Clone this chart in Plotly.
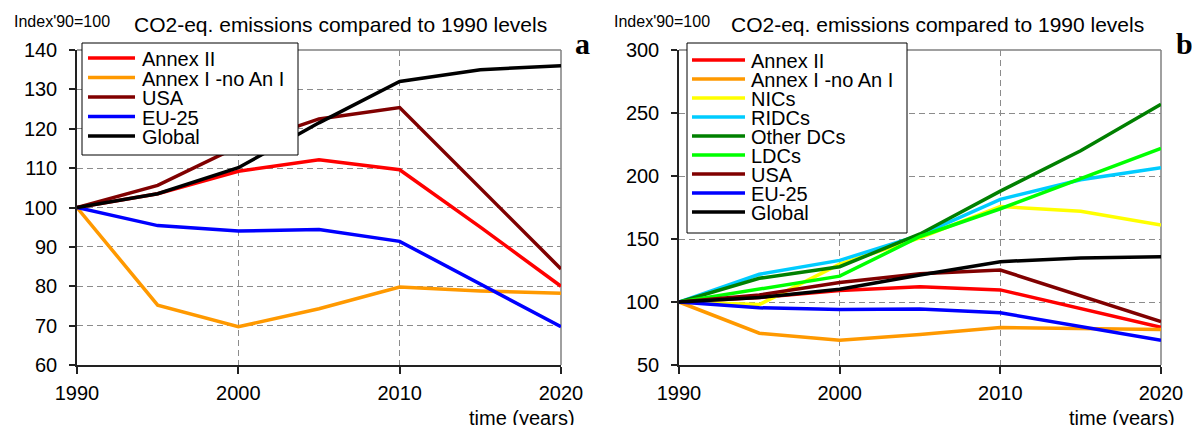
import plotly.graph_objects as go

# ---- data: emissions index (1990 = 100) ----
years = [1990, 1995, 2000, 2005, 2010, 2015, 2020]

annex_ii = [100, 103.5, 109.2, 112.1, 109.6, 95.0, 80.0]
annex_i_no_an_i = [100, 75.2, 69.7, 74.3, 79.8, 78.8, 78.2]
usa = [100, 105.6, 115.5, 122.5, 125.4, 105.0, 84.4]
eu25 = [100, 95.4, 94.0, 94.4, 91.4, 80.5, 69.7]
global_ = [100, 103.5, 110.1, 121.5, 132.0, 135.0, 136.0]
nics = [100, 98.0, 130.0, 151.0, 175.8, 172.0, 161.0]
ridcs = [100, 122.0, 133.0, 153.0, 181.5, 197.0, 206.5]
other_dcs = [100, 118.8, 128.0, 154.0, 188.0, 220.0, 257.0]
ldcs = [100, 110.5, 120.5, 152.0, 174.0, 198.0, 222.0]

panel_a_series = [
    ("Annex II", annex_ii, "#FF0000"),
    ("Annex I -no An I", annex_i_no_an_i, "#FF9900"),
    ("USA", usa, "#800000"),
    ("EU-25", eu25, "#0000FF"),
    ("Global", global_, "#000000"),
]
panel_b_series = [
    ("Annex II", annex_ii, "#FF0000"),
    ("Annex I -no An I", annex_i_no_an_i, "#FF9900"),
    ("NICs", nics, "#FFFF00"),
    ("RIDCs", ridcs, "#00CCFF"),
    ("Other DCs", other_dcs, "#008000"),
    ("LDCs", ldcs, "#00FF00"),
    ("USA", usa, "#800000"),
    ("EU-25", eu25, "#0000FF"),
    ("Global", global_, "#000000"),
]

x_ticks = [1990, 2000, 2010, 2020]
title_text = "CO2-eq. emissions compared to 1990 levels"
index_text = "Index'90=100"
x_title = "time (years)"

W, H = 1192, 425
FONT = "Liberation Sans, Arial, sans-serif"
SERIF = "Liberation Serif, Times New Roman, serif"
LINE_W = 3.5


def px(x):
    return x / W


def py(y):
    return 1 - y / H


fig = go.Figure()

for name, vals, color in panel_a_series:
    fig.add_trace(go.Scatter(x=years, y=vals, name=name, mode="lines",
                             line=dict(color=color, width=LINE_W),
                             xaxis="x", yaxis="y", showlegend=False))
for name, vals, color in panel_b_series:
    fig.add_trace(go.Scatter(x=years, y=vals, name=name, mode="lines",
                             line=dict(color=color, width=LINE_W),
                             xaxis="x2", yaxis="y2", showlegend=False))

xcommon = dict(range=[1990, 2020], tickvals=x_ticks, showline=True,
               linecolor="#222222", linewidth=1.5, ticks="outside", ticklen=7,
               tickcolor="#222222", tickwidth=1.5, showgrid=True,
               gridcolor="#8c8c8c", griddash="6px,4px", gridwidth=1,
               zeroline=False, automargin=False,
               tickfont=dict(family=FONT, size=20, color="#000"),
               ticklabelstandoff=2, fixedrange=True)
ycommon = dict(showline=True, linecolor="#222222", linewidth=1.5,
               ticks="outside", ticklen=6, tickcolor="#222222", tickwidth=1.5,
               showgrid=True, gridcolor="#8c8c8c", griddash="6px,4px",
               gridwidth=1, zeroline=False, automargin=False,
               tickfont=dict(family=FONT, size=20, color="#000"),
               ticklabelstandoff=8, fixedrange=True)

ydom = [py(365), py(50)]
fig.update_layout(
    width=W, height=H,
    margin=dict(l=0, r=0, t=0, b=0, autoexpand=False),
    paper_bgcolor="white", plot_bgcolor="white",
    xaxis=dict(domain=[px(77), px(561)], anchor="y", **xcommon),
    yaxis=dict(domain=ydom, anchor="x", range=[60, 140], dtick=10, **ycommon),
    xaxis2=dict(domain=[px(679), px(1161)], anchor="y2", **xcommon),
    yaxis2=dict(domain=ydom, anchor="x2", range=[50, 300], dtick=50, **ycommon),
    showlegend=False,
)

# gray frame on the top and right edges of each plot area
for xr, yr in (("x domain", "y domain"), ("x2 domain", "y2 domain")):
    fig.add_shape(type="line", xref=xr, yref=yr, x0=0, x1=1, y0=1, y1=1,
                  line=dict(color="#808080", width=1.5), layer="below")
    fig.add_shape(type="line", xref=xr, yref=yr, x0=1, x1=1, y0=0, y1=1,
                  line=dict(color="#808080", width=1.5), layer="below")


def add_key(series, left, top, right, bottom, first_y, step, sw_x0, sw_x1, text_x):
    """Boxed key: a short line swatch and the series name per row."""
    fig.add_shape(type="rect", xref="paper", yref="paper",
                  x0=px(left), x1=px(right), y0=py(bottom), y1=py(top),
                  fillcolor="white", line=dict(color="#000", width=1),
                  layer="above")
    for i, (name, _vals, color) in enumerate(series):
        yy = first_y + step * i
        fig.add_shape(type="line", xref="paper", yref="paper",
                      x0=px(sw_x0), x1=px(sw_x1), y0=py(yy), y1=py(yy),
                      line=dict(color=color, width=LINE_W), layer="above")
        fig.add_annotation(x=px(text_x), y=py(yy + 1), xref="paper",
                           yref="paper", xanchor="left", yanchor="middle",
                           text=name, showarrow=False,
                           font=dict(family=FONT, size=20, color="#000"))


add_key(panel_a_series, 82, 43, 298, 155, 58, 19.5, 88, 135, 140)
add_key(panel_b_series, 687, 43, 907, 233, 60, 19.0, 692, 745, 749)

# per-panel captions: (index label left, title centre, x-title right, letter, letter centre)
panels = [(12, 340, 577, "a", 582), (612, 937, 1177, "b", 1184)]
for left, tcenter, tx_right, letter, letter_x in panels:
    fig.add_annotation(x=px(left), y=py(22), xref="paper", yref="paper",
                       xanchor="left", yanchor="middle", text=index_text,
                       showarrow=False,
                       font=dict(family=FONT, size=16, color="#000"))
    fig.add_annotation(x=px(tcenter), y=py(24), xref="paper", yref="paper",
                       xanchor="center", yanchor="middle", text=title_text,
                       showarrow=False,
                       font=dict(family=FONT, size=21, color="#000"))
    fig.add_annotation(x=px(tx_right), y=py(418), xref="paper", yref="paper",
                       xanchor="right", yanchor="middle", text=x_title,
                       showarrow=False,
                       font=dict(family=FONT, size=20, color="#000"))
    fig.add_annotation(x=px(letter_x), y=py(44), xref="paper", yref="paper",
                       xanchor="center", yanchor="middle",
                       text="<b>" + letter + "</b>", showarrow=False,
                       font=dict(family=SERIF, size=30, color="#000"))

fig.write_html("out.html")
